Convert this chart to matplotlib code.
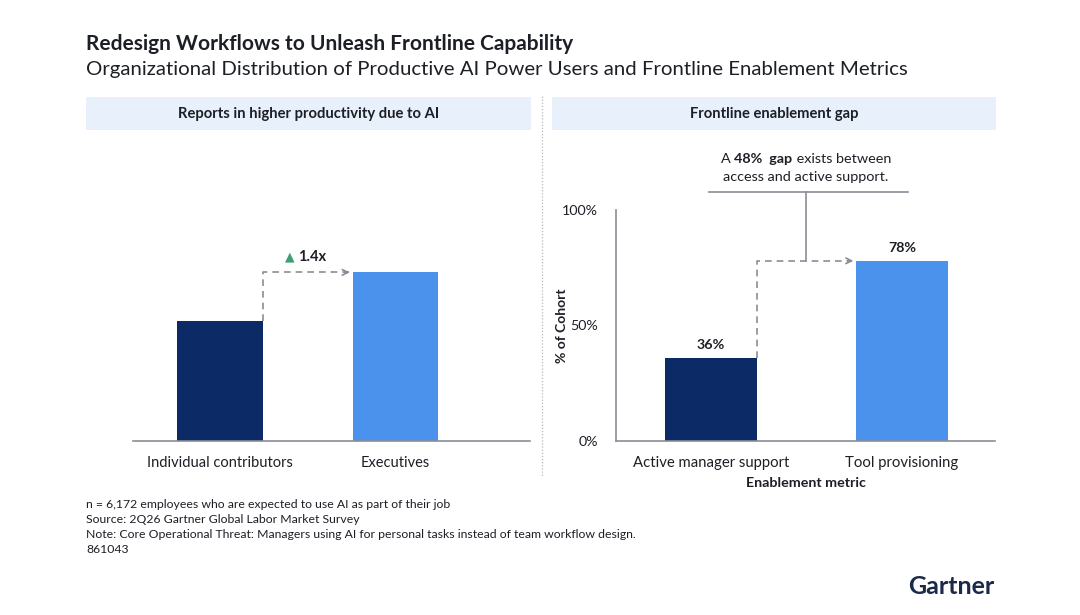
import matplotlib
matplotlib.use("Agg")
import matplotlib.pyplot as plt
from matplotlib.patches import Rectangle
from matplotlib.lines import Line2D

plt.rcParams['font.family'] = ['Lato', 'DejaVu Sans']

# ---- data ----
left_categories = ["Individual contributors", "Executives"]
left_values = [52, 73]          # relative productivity (hidden axis)
left_ratio_label = "1.4x"

right_categories = ["Active manager support", "Tool provisioning"]
right_values = [36, 78]         # % of cohort
right_ticks = [0, 50, 100]
right_tick_labels = ["0%", "50%", "100%"]
gap_value = 48

NAVY = "#0c2a66"
BLUE = "#4a92ec"
GRAY = "#8a8d96"
TEXT = "#1c1f26"
HEADER_BG = "#e7f0fb"

W, H = 1080, 615
fig = plt.figure(figsize=(W / 100, H / 100), dpi=100)

def fx(x):
    return x / W

def fy(y):
    return 1 - y / H

# ---- title ----
fig.text(fx(86), fy(44), "Redesign Workflows to Unleash Frontline Capability",
         fontsize=15, fontweight="bold", color=TEXT, va="center", ha="left")
fig.text(fx(86), fy(69), "Organizational Distribution of Productive AI Power Users and Frontline Enablement Metrics",
         fontsize=14.7, color=TEXT, va="center", ha="left")

# ---- headers ----
for x0, x1, label in [(86, 531, "Reports in higher productivity due to AI"),
                      (552, 996, "Frontline enablement gap")]:
    fig.patches.append(Rectangle((fx(x0), fy(130)), fx(x1) - fx(x0), fy(97) - fy(130),
                                 transform=fig.transFigure, facecolor=HEADER_BG,
                                 edgecolor="none", zorder=0))
    fig.text(fx((x0 + x1) / 2), fy(114), label, fontsize=10.6, fontweight="bold",
             color=TEXT, ha="center", va="center")

# divider
fig.add_artist(Line2D([fx(542), fx(542)], [fy(96), fy(476)], transform=fig.transFigure,
                      color="#b5b8be", linestyle=(0, (1, 1.5)), linewidth=0.9))

# ---- left chart ----
axL = fig.add_axes([fx(133), fy(441), fx(530) - fx(133), fy(210) - fy(441)])
wL = 0.486
axL.bar([0, 1], left_values, width=wL, color=[NAVY, BLUE], zorder=2)
axL.set_xlim(-0.497, 1.771)
axL.set_ylim(0, 100)
for s in ["top", "right", "left"]:
    axL.spines[s].set_visible(False)
axL.spines["bottom"].set_color(GRAY)
axL.spines["bottom"].set_linewidth(1.2)
axL.set_yticks([])
axL.set_xticks([0, 1])
axL.set_xticklabels(left_categories, fontsize=10.5, color=TEXT)
axL.tick_params(axis="x", length=0, pad=11)

x_start = 0 + wL / 2
x_end = 1 - wL / 2
axL.plot([x_start, x_start, x_end - 0.02], [left_values[0], left_values[1], left_values[1]],
         color=GRAY, linestyle=(0, (4, 3)), linewidth=1.2, zorder=3)
axL.annotate("", xy=(x_end, left_values[1]), xytext=(x_end - 0.06, left_values[1]),
             arrowprops=dict(arrowstyle="->", color=GRAY, lw=1.2), zorder=3)
axL.text(x_start + 0.155, left_values[1] + 6.8, "▲", fontsize=9, color="#3f9c74",
         ha="center", va="center", family=["DejaVu Sans"])
axL.text(x_start + 0.205, left_values[1] + 6.8, left_ratio_label, fontsize=10.5,
         fontweight="bold", color=TEXT, ha="left", va="center")

# ---- right chart ----
axR = fig.add_axes([fx(616), fy(441), fx(995) - fx(616), fy(210) - fy(441)])
wR = 0.48
axR.bar([0, 1], right_values, width=wR, color=[NAVY, BLUE], zorder=2)
axR.set_xlim(-0.497, 1.487)
axR.set_ylim(0, 100)
axR.spines["top"].set_visible(False)
axR.spines["right"].set_visible(False)
for s in ["left", "bottom"]:
    axR.spines[s].set_color(GRAY)
    axR.spines[s].set_linewidth(1.2)
axR.set_yticks(right_ticks)
axR.set_yticklabels(right_tick_labels, fontsize=10.3, color=TEXT)
axR.tick_params(axis="y", length=0, pad=13)
axR.set_xticks([0, 1])
axR.set_xticklabels(right_categories, fontsize=10.7, color=TEXT)
axR.tick_params(axis="x", length=0, pad=11)
axR.set_ylabel("% of Cohort", fontsize=10, fontweight="bold", color=TEXT, labelpad=-4.5)
axR.set_xlabel("Enablement metric", fontsize=10.3, fontweight="bold", color=TEXT, labelpad=4.5)

for i, v in enumerate(right_values):
    axR.text(i, v + 3.0, f"{v}%", fontsize=10.3, fontweight="bold", color=TEXT,
             ha="center", va="bottom")

xs = 0 + wR / 2
xe = 1 - wR / 2
axR.plot([xs, xs, xe - 0.02], [right_values[0], right_values[1], right_values[1]],
         color=GRAY, linestyle=(0, (4, 3)), linewidth=1.2, zorder=3)
axR.annotate("", xy=(xe, right_values[1]), xytext=(xe - 0.06, right_values[1]),
             arrowprops=dict(arrowstyle="->", color=GRAY, lw=1.2), zorder=3)

# gap callout
xm = (xs + xe) / 2
bracket_y = 107.8
axR.plot([xm, xm], [right_values[1], bracket_y], color=GRAY, linewidth=1.2, clip_on=False)
axR.plot([xm - 0.51, xm + 0.53], [bracket_y, bracket_y], color=GRAY, linewidth=1.2, clip_on=False)

fig.canvas.draw()
renderer = fig.canvas.get_renderer()
parts = [("A ", "normal"), (f"{gap_value}%  gap", "bold"), (" exists between", "normal")]
texts = []
for s, wgt in parts:
    t = fig.text(0, 0, s, fontsize=10.4, fontweight=wgt, color=TEXT, va="center", ha="left")
    texts.append(t)
widths = [t.get_window_extent(renderer).width for t in texts]
total = sum(widths)
cx = 806
x = cx - total / 2
for t, w in zip(texts, widths):
    t.set_position((fx(x), fy(159)))
    x += w
fig.text(fx(cx), fy(177), "access and active support.", fontsize=10.4, color=TEXT,
         ha="center", va="center")

# ---- footnotes ----
notes = ["n = 6,172 employees who are expected to use AI as part of their job",
         "Source: 2Q26 Gartner Global Labor Market Survey",
         "Note: Core Operational Threat: Managers using AI for personal tasks instead of team workflow design.",
         "861043"]
for i, n in enumerate(notes):
    fig.text(fx(86), fy(505 + i * 14.7), n, fontsize=8.8, color=TEXT, ha="left", va="center")

# ---- logo ----
fig.text(fx(994), fy(587), "Gartner", fontsize=18, fontweight="bold", color="#1b2a4a",
         ha="right", va="center")

fig.savefig("out.png", dpi=100)
